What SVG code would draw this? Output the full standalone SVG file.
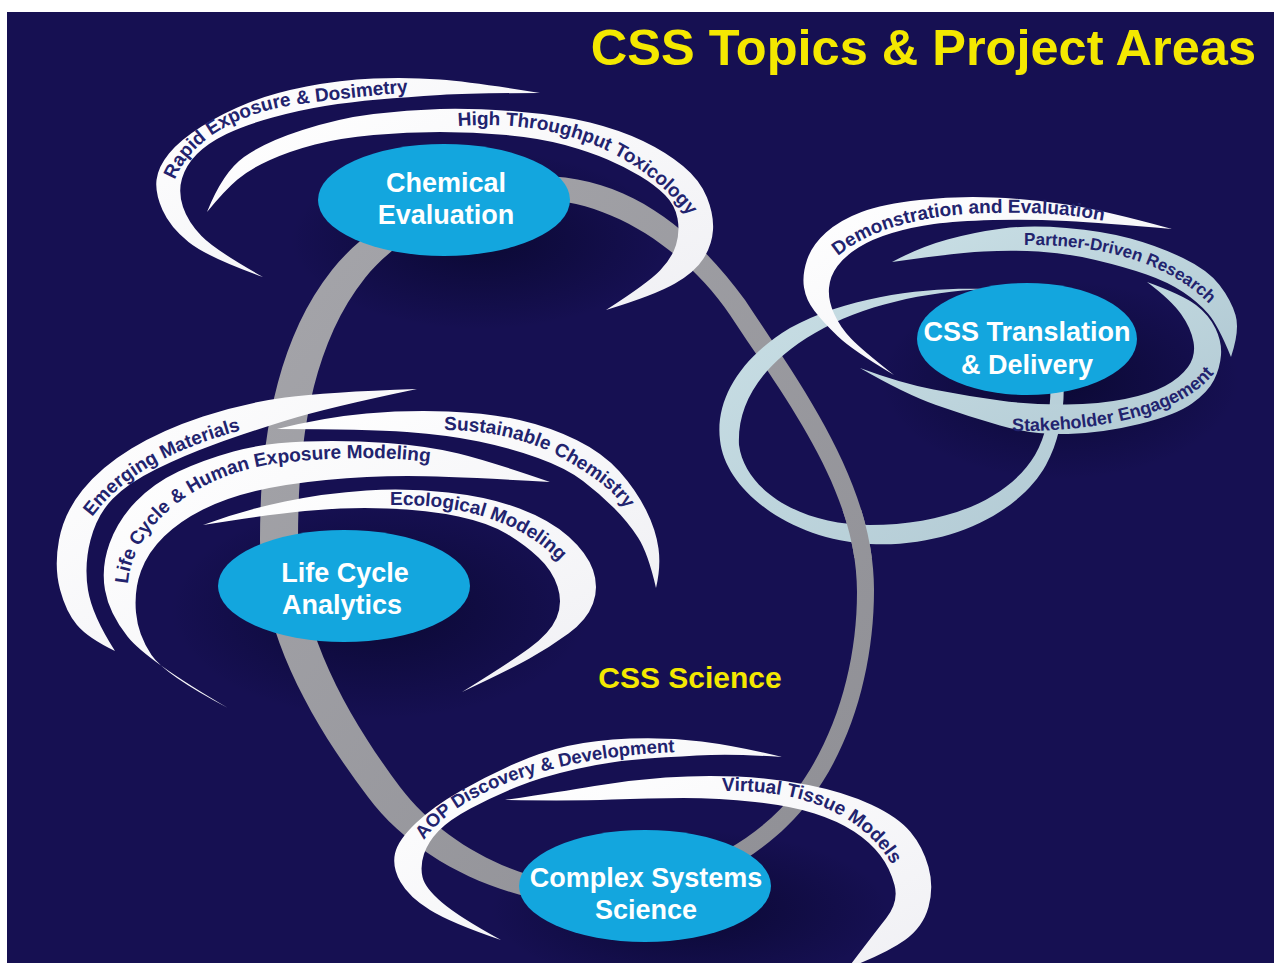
<svg xmlns="http://www.w3.org/2000/svg" xmlns:xlink="http://www.w3.org/1999/xlink" width="1274" height="963" viewBox="0 0 1274 963">
<style>
.bg{fill:#161052}
.node{fill:#13a6de}
.ntxt{font-family:"Liberation Sans",Arial,sans-serif;font-weight:bold;font-size:27px;fill:#ffffff;text-anchor:middle}
.band{fill:url(#whiteG)}
.pale{fill:url(#paleG)}
.lbl{font-family:"Liberation Sans",Arial,sans-serif;font-weight:bold;font-size:19px;fill:#22236e}
.yel{font-family:"Liberation Sans",Arial,sans-serif;font-weight:bold;fill:#f4e800}
</style>
<defs>
<linearGradient id="whiteG" x1="0" y1="0" x2="1" y2="1">
<stop offset="0" stop-color="#ffffff"/>
<stop offset="1" stop-color="#f0f0f4"/>
</linearGradient>
<linearGradient id="paleG" x1="0" y1="0" x2="1" y2="1">
<stop offset="0" stop-color="#c9dfe5"/>
<stop offset="1" stop-color="#b2cad4"/>
</linearGradient>
<linearGradient id="grayG" x1="0" y1="0" x2="1" y2="1">
<stop offset="0" stop-color="#a6a6ab"/>
<stop offset="1" stop-color="#8e8e94"/>
</linearGradient>
<radialGradient id="shadow">
<stop offset="0" stop-color="#07062a" stop-opacity="0.75"/>
<stop offset="1" stop-color="#07062a" stop-opacity="0"/>
</radialGradient>
<clipPath id="crossClip"><rect x="840" y="510" width="45" height="48"/></clipPath>
<path id="t1" d="M 174,182 C 190,140 236,113 300,104 C 340,99 375,95 415,92 L 440,90"/>
<path id="t2" d="M 458,126 C 540,120 625,140 684,210 L 702,232"/>
<path id="t3" d="M 838,256 C 872,227 930,214 990,213 C 1040,212 1075,215 1105,221 L 1130,226"/>
<path id="t4" d="M 1024,245 C 1100,244 1163,262 1203,298 L 1220,314"/>
<path id="t5" d="M 1012,431 C 1098,432 1176,415 1210,378 L 1225,361"/>
<path id="t7" d="M 92,517 C 124,474 176,448 242,430 L 266,424"/>
<path id="t8" d="M 444,430 C 490,430 530,440 562,458 C 590,474 610,488 622,504 L 636,523"/>
<path id="t9" d="M 128,584 C 131,532 190,474 280,463 C 340,456 390,457 428,462 L 450,465"/>
<path id="t10" d="M 390,505 C 448,504 512,515 556,558 L 570,573"/>
<path id="t11" d="M 424,840 C 455,795 545,757 678,752 L 705,751"/>
<path id="t12" d="M 722,791 C 795,789 860,810 893,866 L 903,884"/>
<path id="grayRing" fill-rule="evenodd" d="M 540,176 C 630,176 695,232 745,300 C 803,388 874,484 874,590 C 874,663 854,742 810,800 C 762,864 675,905 595,905 C 511,905 418,864 368,797 C 312,723 260,633 260,540 C 260,447 274,343 332,270 C 379,211 464,176 540,176 Z M 540,200 C 614,200 689,254 730,315 C 786,400 857,490 857,592 C 857,662 837,736 795,792 C 751,850 668,885 595,885 C 522,885 444,845 400,787 C 347,716 298,629 298,540 C 298,450 309,348 365,278 C 405,228 476,200 540,200 Z"/>
</defs>

<rect x="0" y="0" width="1274" height="963" fill="#ffffff"/>
<rect class="bg" x="7" y="12" width="1267" height="951"/>

<g id="shadows">
<ellipse cx="480" cy="240" rx="190" ry="90" fill="url(#shadow)"/>
<ellipse cx="380" cy="610" rx="210" ry="110" fill="url(#shadow)"/>
<ellipse cx="1060" cy="380" rx="180" ry="100" fill="url(#shadow)"/>
<ellipse cx="690" cy="910" rx="200" ry="80" fill="url(#shadow)"/>
</g>

<g id="connectors">
<use href="#grayRing" fill="url(#grayG)"/>
<path id="pale-ring" class="pale" d="M 985,289 C 930,287 850,295 790,328 C 740,358 715,400 720,440 C 725,490 790,540 870,544 C 950,548 1020,512 1046,465 C 1060,440 1066,405 1063,372 L 1050,372 C 1052,405 1048,432 1035,455 C 1008,500 945,525 870,525 C 800,525 745,490 739,445 C 737,405 760,365 815,333 C 862,305 925,292 985,289 Z"/>
<use href="#grayRing" fill="url(#grayG)" clip-path="url(#crossClip)"/>
</g>

<g id="swoosh-rapid-exposure">
<path class="band" d="M540,93 Q473,82 440,79.5 Q407,77 373.5,78.5 Q340,80 306.5,86.5 Q273,93 248,103 Q223,113 201.5,126.5 Q180,140 169,153.5 Q158,167 156.5,180 Q155,193 162.5,210 Q170,227 188.5,242 Q207,257 263,277 Q215,250 201.5,236 Q188,222 183,207 Q178,192 182,178.5 Q186,165 197,154 Q208,143 226.5,134 Q245,125 272.5,117.5 Q300,110 325,106 Q350,102 378.5,99.5 Q407,97 440,95 Q473,93 540,93 Z"/>
<text class="lbl"><textPath href="#t1" startOffset="2">Rapid Exposure &amp; Dosimetry</textPath></text>
</g>

<g id="swoosh-high-throughput">
<path class="band" d="M207,212 Q223,172 244,157 Q265,142 302.5,130 Q340,118 373.5,114 Q407,110 440,109 Q473,108 516.5,111.5 Q560,115 590,122.5 Q620,130 643,141 Q666,152 683,166 Q700,180 707,197.5 Q714,215 713,230 Q712,245 703.5,258.5 Q695,272 675,283.5 Q655,295 606,310 Q648,283 660,270.5 Q672,258 676,245 Q680,232 677.5,218.5 Q675,205 665,195 Q655,185 640,176 Q625,167 607.5,159.5 Q590,152 565,145 Q540,138 506.5,135 Q473,132 440,132 Q407,132 373.5,135 Q340,138 315,144.5 Q290,151 270,160 Q250,169 237.5,179.5 Q225,190 207,212 Z"/>
<text class="lbl"><textPath href="#t2" startOffset="0">High Throughput Toxicology</textPath></text>
</g>

<g id="swoosh-demonstration">
<path class="band" d="M1172,229 Q1103,210 1066.5,204.5 Q1030,199 993,197.5 Q956,196 919.5,200 Q883,204 861.5,212 Q840,220 826,232.5 Q812,245 807,260 Q802,275 804,287.5 Q806,300 814.5,311 Q823,322 837.5,336 Q852,350 894,375 Q862,350 851,338.5 Q840,327 834,313.5 Q828,300 829,288 Q830,276 837.5,266 Q845,256 858.5,247.5 Q872,239 892,233 Q912,227 934,224 Q956,221 993,220 Q1030,219 1066.5,221 Q1103,223 1172,229 Z"/>
<text class="lbl"><textPath href="#t3" startOffset="0">Demonstration and Evaluation</textPath></text>
</g>

<g id="swoosh-partner">
<path class="pale" d="M892,262 Q920,247 947.5,239.5 Q975,232 1002.5,228.5 Q1030,225 1066.5,228 Q1103,231 1130.5,238.5 Q1158,246 1183,258 Q1208,270 1219.5,285 Q1231,300 1235.5,315 Q1240,330 1231,357 Q1218,325 1208,313.5 Q1198,302 1183,292 Q1168,282 1146.5,274.5 Q1125,267 1095.5,260 Q1066,253 1038.5,251.5 Q1011,250 983.5,251.5 Q956,253 892,262 Z"/>
<text class="lbl" style="font-size:17px"><textPath href="#t4" startOffset="0">Partner-Driven Research</textPath></text>
</g>

<g id="swoosh-stakeholder">
<path class="pale" d="M860,368 Q900,383 933.5,389.5 Q967,396 1000,400.5 Q1033,405 1066.5,404.5 Q1100,404 1125,399 Q1150,394 1165,386 Q1180,378 1188,367 Q1196,356 1193.5,342 Q1191,328 1181,314 Q1171,300 1147,282 Q1183,295 1196,305 Q1209,315 1215.5,328.5 Q1222,342 1221,355 Q1220,368 1214,380 Q1208,392 1192,403.5 Q1176,415 1139.5,424 Q1103,433 1068,434 Q1033,435 1000,425.5 Q967,416 936,405 Q905,394 860,368 Z"/>
<text class="lbl" style="font-size:18px"><textPath href="#t5" startOffset="0">Stakeholder Engagement</textPath></text>
</g>

<g id="swoosh-emerging">
<path class="band" d="M417,389 Q326,392 285,397.5 Q244,403 203,416.5 Q162,430 131.5,448.5 Q101,467 82.5,490 Q64,513 59,540 Q54,567 60,589.5 Q66,612 77,625 Q88,638 115,651 Q92,615 88,590 Q84,565 90.5,540 Q97,515 112.5,499 Q128,483 156.5,469 Q185,455 215.5,444 Q246,433 286,420.5 Q326,408 417,389 Z"/>
<text class="lbl"><textPath href="#t7" startOffset="0">Emerging Materials</textPath></text>
</g>

<g id="swoosh-sustainable">
<path class="band" d="M277,429 Q326,417 366.5,413.5 Q407,410 448,411.5 Q489,413 519.5,420 Q550,427 576.5,440 Q603,453 619.5,471.5 Q636,490 646,510 Q656,530 658.5,548.5 Q661,567 656,588 Q648,553 638,537.5 Q628,522 614,508 Q600,494 583,481 Q566,468 538,458 Q510,448 479,441.5 Q448,435 407,432 Q366,429 277,429 Z"/>
<text class="lbl"><textPath href="#t8" startOffset="0">Sustainable Chemistry</textPath></text>
</g>

<g id="swoosh-lifecycle-human">
<path class="band" d="M550,482 Q489,461 458.5,453.5 Q428,446 387,443 Q346,440 305,441.5 Q264,443 233.5,451.5 Q203,460 178.5,471.5 Q154,483 136,501.5 Q118,520 109.5,543.5 Q101,567 105,590 Q109,613 127.5,636.5 Q146,660 228,708 Q165,675 151.5,655 Q138,635 136,612.5 Q134,590 141,571 Q148,552 164,536.5 Q180,521 203,509.5 Q226,498 255.5,491 Q285,484 326,480 Q367,476 407.5,476 Q448,476 550,482 Z"/>
<text class="lbl"><textPath href="#t9" startOffset="0">Life Cycle &amp; Human Exposure Modeling</textPath></text>
</g>

<g id="swoosh-ecological">
<path class="band" d="M203,525 Q244,510 285,501.5 Q326,493 366.5,490.5 Q407,488 448,492.5 Q489,497 519.5,508.5 Q550,520 568.5,536.5 Q587,553 593,570 Q599,587 593,603.5 Q587,620 568.5,633.5 Q550,647 529.5,658.5 Q509,670 462,692 Q509,663 529.5,648 Q550,633 556.5,618 Q563,603 557.5,586.5 Q552,570 538.5,557.5 Q525,545 507,534 Q489,523 458.5,516.5 Q428,510 387,508.5 Q346,507 305,511 Q264,515 203,525 Z"/>
<text class="lbl"><textPath href="#t10" startOffset="0">Ecological Modeling</textPath></text>
</g>

<g id="swoosh-aop">
<path class="band" d="M782,757 Q737,746 701.5,741.5 Q666,737 630,738.5 Q594,740 567.5,746 Q541,752 514,764 Q487,776 460.5,791 Q434,806 416,823 Q398,840 395,853.5 Q392,867 400.5,882 Q409,897 430,910 Q451,923 501,940 Q459,917 442,902.5 Q425,888 422.5,877 Q420,866 424,854 Q428,842 438.5,831 Q449,820 470.5,808.5 Q492,797 516.5,787 Q541,777 576.5,769 Q612,761 648,758.5 Q684,756 710.5,755 Q737,754 782,757 Z"/>
<text class="lbl" style="font-size:18.5px"><textPath href="#t11" startOffset="0">AOP Discovery &amp; Development</textPath></text>
</g>

<g id="swoosh-virtual-tissue">
<path class="band" d="M505,800 Q559,792 594.5,786 Q630,780 665.5,777.5 Q701,775 737,776.5 Q773,778 808.5,785 Q844,792 871,804.5 Q898,817 910.5,832 Q923,847 928.5,867 Q934,887 928.5,907 Q923,927 905,940 Q887,953 848,968 Q873,935 886,918.5 Q899,902 894.5,885 Q890,868 880,855 Q870,842 854,831.5 Q838,821 814.5,813.5 Q791,806 755,802 Q719,798 683.5,798 Q648,798 612,799.5 Q576,801 505,800 Z"/>
<text class="lbl"><textPath href="#t12" startOffset="0">Virtual Tissue Models</textPath></text>
</g>

<g id="node-chemical-evaluation">
<ellipse class="node" cx="444" cy="200" rx="126" ry="56"/>
<text class="ntxt" x="446" y="192">Chemical</text>
<text class="ntxt" x="446" y="224">Evaluation</text>
</g>

<g id="node-css-translation">
<ellipse class="node" cx="1027" cy="339" rx="110" ry="56"/>
<text class="ntxt" x="1027" y="341">CSS Translation</text>
<text class="ntxt" x="1027" y="374">&amp; Delivery</text>
</g>

<g id="node-life-cycle">
<ellipse class="node" cx="344" cy="586" rx="126" ry="56"/>
<text class="ntxt" x="345" y="582">Life Cycle</text>
<text class="ntxt" x="342" y="614">Analytics</text>
</g>

<g id="node-complex-systems">
<ellipse class="node" cx="645" cy="886" rx="126" ry="56"/>
<text class="ntxt" x="646" y="887">Complex Systems</text>
<text class="ntxt" x="646" y="919">Science</text>
</g>

<text class="yel" x="690" y="688" text-anchor="middle" font-size="30">CSS Science</text>
<text class="yel" x="1256" y="65" text-anchor="end" font-size="50.5">CSS Topics &amp; Project Areas</text>
</svg>
